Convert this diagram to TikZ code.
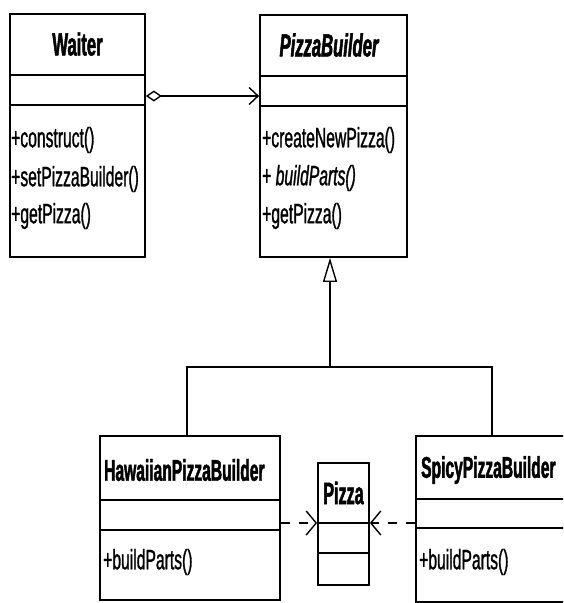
\documentclass[tikz,border=0pt]{standalone}
\usepackage{fontspec}
\setmainfont[FakeStretch=0.56,FakeBold=1]{Liberation Sans}
\newfontfamily\ttlfont[FakeStretch=0.52,FakeBold=1.5]{Liberation Sans Bold}
\newfontfamily\ttlitfont[FakeStretch=0.52,FakeBold=1.5]{Liberation Sans Bold Italic}
\usetikzlibrary{arrows.meta}
\begin{document}
\begin{tikzpicture}[x=1pt,y=-1pt,
  box/.style={draw,line width=1.8pt,rectangle,inner sep=0pt},
  sep/.style={line width=1.8pt},
  ttl/.style={font=\ttlfont\fontsize{32}{34}\selectfont,inner sep=0pt},
  ttlb/.style={font=\ttlfont\fontsize{30}{32}\selectfont,inner sep=0pt},
  mth/.style={font=\fontsize{28}{30}\selectfont,inner sep=0pt,anchor=west},
  conn/.style={line width=1.4pt},
  dconn/.style={line width=1.4pt,dash pattern=on 9pt off 9pt}]
\clip (0,0) rectangle (563,603);
\fill[white] (0,0) rectangle (563,603);
% Waiter
\node[box,minimum width=135pt,minimum height=243pt] (waiter) at (77.5,135.5) {};
\draw[sep] (waiter.west |- 0,75) -- (waiter.east |- 0,75);
\draw[sep] (waiter.west |- 0,105) -- (waiter.east |- 0,105);
\node[ttl] (wt) at (77.5,44) {Waiter};
\node[mth] (w1) at (11,140) {+construct()};
\node[mth] (w2) at (11,179) {+setPizzaBuilder()};
\node[mth] (w3) at (11,216) {+getPizza()};
% PizzaBuilder
\node[box,minimum width=147pt,minimum height=242pt] (pb) at (333.5,136) {};
\draw[sep] (pb.west |- 0,76) -- (pb.east |- 0,76);
\draw[sep] (pb.west |- 0,106) -- (pb.east |- 0,106);
\node[ttl,font=\ttlitfont\fontsize{32}{34}\selectfont] (pbt) at (329,45) {PizzaBuilder};
\node[mth] (p1) at (262,140) {+createNewPizza()};
\node[mth] (p2) at (262,178) {+ \textit{buildParts()}};
\node[mth] (p3) at (262,216) {+getPizza()};
% HawaiianPizzaBuilder
\node[box,minimum width=180pt,minimum height=164pt] (haw) at (190,518) {};
\draw[sep] (haw.west |- 0,500) -- (haw.east |- 0,500);
\draw[sep] (haw.west |- 0,530) -- (haw.east |- 0,530);
\node[ttlb,anchor=west] (hawt) at (104,470) {HawaiianPizzaBuilder};
\node[mth] (h1) at (103,562) {+buildParts()};
% Pizza
\node[box,minimum width=51pt,minimum height=122pt] (pizza) at (343.5,524) {};
\draw[sep] (pizza.west |- 0,523) -- (pizza.east |- 0,523);
\draw[sep] (pizza.west |- 0,553) -- (pizza.east |- 0,553);
\node[ttlb,font=\ttlfont\fontsize{31}{33}\selectfont] (pizzat) at (343.5,493) {Pizza};
% SpicyPizzaBuilder
\node[box,minimum width=154pt,minimum height=166pt] (spicy) at (493,519) {};
\draw[sep] (spicy.west |- 0,499) -- (spicy.east |- 0,499);
\draw[sep] (spicy.west |- 0,528) -- (spicy.east |- 0,528);
\node[ttlb,anchor=west] (spicyt) at (421,470) {SpicyPizzaBuilder};
\node[mth] (s1) at (419,562) {+buildParts()};
% aggregation
\draw[conn,{Diamond[open,length=16pt,width=11pt,line width=1.4pt]}-{Straight Barb[length=9pt,width=17pt,line width=1.4pt]}]
  (waiter.east |- 0,96) -- (pb.west |- 0,96);
% generalization
\coordinate (jn) at (330,367);
\coordinate (jl) at (187,367);
\coordinate (jr) at (492,367);
\draw[conn,-{Triangle[open,length=24pt,width=14pt,line width=1.4pt]}] (jn) -- (jn |- pb.south);
\draw[conn] (jl |- haw.north) -- (jl) -- (jr) -- (jr |- spicy.north);
% dependencies
\draw[dconn,-{Straight Barb[length=10pt,width=24pt,line width=1.4pt]}] (haw.east |- 0,523) -- (pizza.west |- 0,523);
\draw[dconn,-{Straight Barb[length=10pt,width=24pt,line width=1.4pt]}] (spicy.west |- 0,523) -- (pizza.east |- 0,523);
\end{tikzpicture}
\end{document}
